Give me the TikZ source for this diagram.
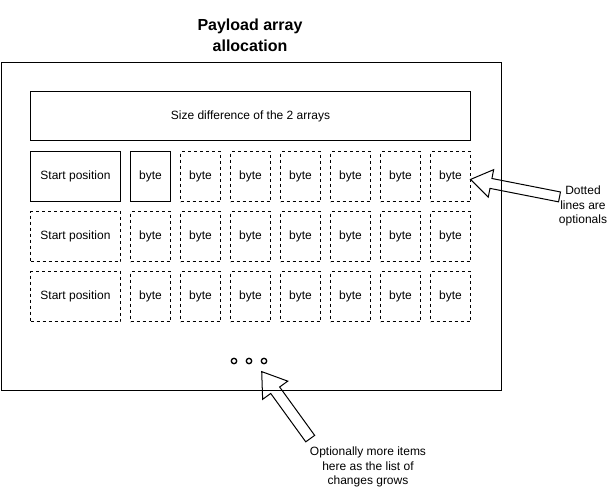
\documentclass[tikz,border=0pt]{standalone}
\usepackage{fontspec}
\setmainfont{Liberation Sans}
\usetikzlibrary{shapes.arrows,calc}

\tikzset{
  cell/.style={draw, line width=0.75pt, inner sep=0pt, minimum height=37.5pt, anchor=north west, font=\fontsize{9}{11}\selectfont},
  optcell/.style={cell, dash pattern=on 2.25pt off 2.25pt},
  note/.style={align=center, font=\fontsize{9}{11}\selectfont},
  fatarrow/.style={draw, single arrow, line width=0.75pt, inner sep=3.4pt, single arrow head extend=6.75pt, single arrow tip angle=68, anchor=tail},
}

\begin{document}
\begin{tikzpicture}[x=0.75pt, y=-0.75pt]
	\useasboundingbox (0,0) rectangle (611,487);
	\node[align=center, font=\fontsize{12}{15.75}\selectfont\bfseries] (title) at (250,35) {Payload array\\allocation};
	\draw[line width=0.75pt] (1,62) rectangle (501,390);
	\node[cell, minimum width=330pt, minimum height=36.75pt] (sizediff) at (30,91) {Size difference of the 2 arrays};
	% rows of the list
	\foreach \r/\y/\st in {1/151/cell, 2/211/optcell, 3/271/optcell} {
		\node[\st, minimum width=67.5pt] (start\r) at (30,\y) {Start position};
		\node[\st, minimum width=30pt] (b\r1) at (130,\y) {byte};
		\foreach \c in {2,...,7}
			\node[optcell, minimum width=30pt] (b\r\c) at ({80+50*\c},\y) {byte};
	}
	\foreach \i in {234,249,264}
		\draw[line width=1pt] (\i,361) circle[radius=2.7];
	\node[note] (optnote) at (583,206) {Dotted\\lines are\\optionals};
	\node[note] (morenote) at (368,467) {Optionally more items\\here as the list of\\changes grows};
	\coordinate (tailR) at (560,197);
	\coordinate (tipR) at ($(b17.east)+(0,3)$);
	\coordinate (tailB) at (310.5,439);
	\coordinate (tipB) at (262,372);
	\path let \p1=($(tipR)-(tailR)$) in node[fatarrow, rotate={atan2(\y1,\x1)}, minimum height={veclen(\x1,\y1)}] (arrR) at (tailR) {};
	\path let \p1=($(tipB)-(tailB)$) in node[fatarrow, inner sep=3.75pt, single arrow head extend=7.5pt, rotate={atan2(\y1,\x1)}, minimum height={veclen(\x1,\y1)}] (arrB) at (tailB) {};
\end{tikzpicture}
\end{document}
